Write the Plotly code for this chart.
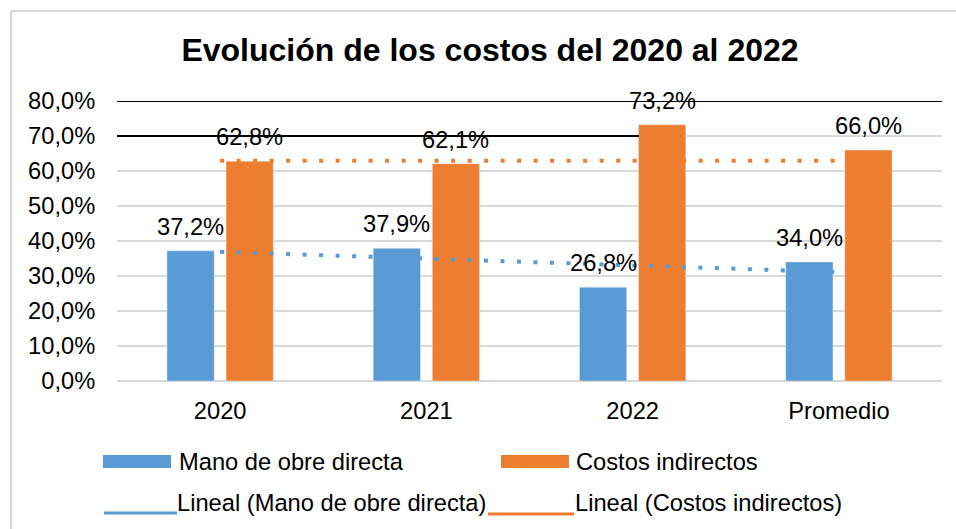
import plotly.graph_objects as go

# ── Datos ─────────────────────────────────────────────────────────────────────
categorias = ["2020", "2021", "2022", "Promedio"]
mano_obra = [37.2, 37.9, 26.8, 34.0]
costos_ind = [62.8, 62.1, 73.2, 66.0]

# líneas de tendencia tal como aparecen en el gráfico (extremos)
tend_x = ["2020", "Promedio"]
tend_mano = [36.9, 31.1]
tend_costos = [62.9, 62.9]

AZUL = "#5B9BD5"
NARANJA = "#ED7D31"
GRIS = "#D9D9D9"
FONT = "Liberation Sans, Arial, sans-serif"
FS = 23.7

# geometría en píxeles del área de trazado (para la leyenda manual)
L, R, T, B = 117, 942, 101, 381
W, H = R - L, B - T


def px_x(p):
    return (p - L) / W


def px_y(p):
    return (B - p) / H


fig = go.Figure()
fig.add_trace(go.Bar(name="Mano de obre directa", x=categorias, y=mano_obra,
                     marker_color=AZUL))
fig.add_trace(go.Bar(name="Costos indirectos", x=categorias, y=costos_ind,
                     marker_color=NARANJA))
fig.add_trace(go.Scatter(name="Lineal (Mano de obre directa)", x=tend_x, y=tend_mano,
                         mode="lines", line=dict(color=AZUL, width=4, dash="4px,12.5px")))
fig.add_trace(go.Scatter(name="Lineal (Costos indirectos)", x=tend_x, y=tend_costos,
                         mode="lines", line=dict(color=NARANJA, width=4, dash="4px,12.5px")))

# etiquetas de datos (x = índice de categoría)
for serie, dx in ((mano_obra, -29.5), (costos_ind, 29.5)):
    for i, v in enumerate(serie):
        fig.add_annotation(x=i, y=v, xref="x", yref="y", text=f"{v:.1f}%".replace(".", ","),
                           showarrow=False, xshift=dx, yshift=24, yanchor="middle",
                           font=dict(size=FS, color="#000000", family=FONT))

shapes = [
    # líneas negras en 80% y 70%
    dict(type="line", xref="paper", yref="y", x0=0, x1=1, y0=80, y1=80,
         line=dict(color="black", width=2), layer="above"),
    dict(type="line", xref="paper", yref="y", x0=0, x1=px_x(639), y0=70, y1=70,
         line=dict(color="black", width=2), layer="above"),
    # marco del gráfico
    dict(type="line", xref="paper", yref="paper", x0=px_x(11), x1=px_x(960),
         y0=px_y(11), y1=px_y(11), line=dict(color=GRIS, width=2)),
    dict(type="line", xref="paper", yref="paper", x0=px_x(11), x1=px_x(11),
         y0=px_y(11), y1=px_y(535), line=dict(color=GRIS, width=2)),
    # leyenda manual
    dict(type="rect", xref="paper", yref="paper", x0=px_x(103), x1=px_x(171),
         y0=px_y(468), y1=px_y(455), fillcolor=AZUL, line_width=0),
    dict(type="rect", xref="paper", yref="paper", x0=px_x(501), x1=px_x(569),
         y0=px_y(468), y1=px_y(455), fillcolor=NARANJA, line_width=0),
    dict(type="line", xref="paper", yref="paper", x0=px_x(104), x1=px_x(177),
         y0=px_y(513), y1=px_y(513), line=dict(color=AZUL, width=3)),
    dict(type="line", xref="paper", yref="paper", x0=px_x(488), x1=px_x(574),
         y0=px_y(514), y1=px_y(514), line=dict(color=NARANJA, width=3)),
]

leyenda = [
    ("Mano de obre directa", 177, 462),
    ("Costos indirectos", 574, 462),
    ("Lineal (Mano de obre directa)", 175, 503),
    ("Lineal (Costos indirectos)", 573, 503),
]
for txt, x, y in leyenda:
    fig.add_annotation(x=px_x(x), y=px_y(y), xref="paper", yref="paper", text=txt,
                       showarrow=False, xanchor="left", yanchor="middle",
                       font=dict(size=FS, color="#000000", family=FONT))

fig.update_layout(
    title=dict(text="<b>Evolución de los costos del 2020 al 2022</b>",
               x=490 / 956, xref="container", xanchor="center",
               y=1 - 50 / 529, yref="container", yanchor="middle",
               font=dict(size=32, color="#000000", family=FONT)),
    barmode="group",
    bargap=0.427,
    bargroupgap=0.2,
    showlegend=False,
    width=956,
    height=529,
    margin=dict(l=L, r=956 - R, t=T, b=529 - B, pad=0),
    paper_bgcolor="white",
    plot_bgcolor="white",
    font=dict(family=FONT, size=FS, color="#000000"),
    separators=",.",
    shapes=shapes,
    xaxis=dict(type="category", range=[-0.5, 3.5], showgrid=False, showline=False,
               zeroline=False, ticks="outside", ticklen=9, tickcolor="rgba(0,0,0,0)",
               tickfont=dict(size=FS, color="#000000")),
    yaxis=dict(range=[0, 80], dtick=10, tickformat=".1f", ticksuffix="%",
               gridcolor=GRIS, gridwidth=1.5, zeroline=True, zerolinecolor=GRIS,
               zerolinewidth=1.5, showline=False,
               ticks="outside", ticklen=16, tickcolor="rgba(0,0,0,0)",
               tickfont=dict(size=FS, color="#000000")),
)

fig.write_html("out.html", config={"displayModeBar": False},
               post_script="document.body.style.margin='0';")
